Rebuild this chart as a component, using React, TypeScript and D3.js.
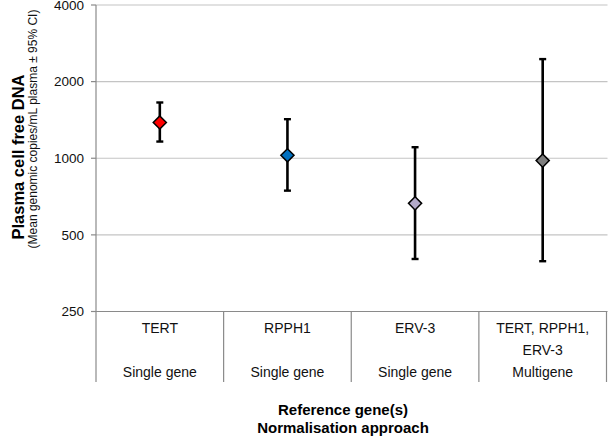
import React from "react";
import * as d3 from "d3";

const genes = ["TERT", "RPPH1", "ERV-3", "TERT, RPPH1,|ERV-3"];
const approaches = ["Single gene", "Single gene", "Single gene", "Multigene"];
const means = [1382, 1027, 665, 979];
const upper = [1656, 1424, 1105, 2452];
const lower = [1163, 746, 402, 394];
const markerColors = ["#ff0000", "#0070c0", "#b3aac9", "#7f7f7f"];
const yTicks = [250, 500, 1000, 2000, 4000];

const W = 608;
const H = 436;
const left = 96;
const right = 606.5;
const top = 5;
const bottom = 311.5;
const catBottom = 382;

export default function App() {
  const y = d3.scaleLog().base(2).domain([250, 4000]).range([bottom, top]);
  const x = d3.scaleBand().domain(genes).range([left, right]);
  const font = "Arial, 'Liberation Sans', Helvetica, sans-serif";
  const diamond = d3.symbol().type(d3.symbolDiamond2).size(110)();

  return (
    <svg
      width={W}
      height={H}
      style={{ position: "fixed", left: 0, top: 0, background: "#fff" }}
      fontFamily={font}
    >
      <rect width={W} height={H} fill="#fff" />
      {/* gridlines */}
      {yTicks.slice(1).map((t) => (
        <line key={"g" + t} x1={left} x2={right + 1} y1={y(t)} y2={y(t)} stroke="#c4c4c4" strokeWidth={1.2} />
      ))}
      {/* y ticks and labels */}
      {yTicks.map((t) => (
        <g key={"t" + t}>
          <line x1={left - 5} x2={left} y1={y(t)} y2={y(t)} stroke="#8a8a8a" strokeWidth={1.2} />
          <text x={84} y={y(t)} dy="0.36em" textAnchor="end" fontSize={13.5} fill="#111">
            {t}
          </text>
        </g>
      ))}
      {/* axes */}
      <line x1={left} x2={left} y1={top} y2={catBottom} stroke="#8a8a8a" strokeWidth={1.2} />
      <line x1={left - 5} x2={right + 1} y1={bottom} y2={bottom} stroke="#8a8a8a" strokeWidth={1.2} />
      {genes.map((g) => (
        <line key={"d" + g} x1={(x(g) as number) + x.bandwidth()} x2={(x(g) as number) + x.bandwidth()} y1={bottom} y2={catBottom} stroke="#8a8a8a" strokeWidth={1.2} />
      ))}
      {/* category labels */}
      {genes.map((g, i) => {
        const cx = (x(g) as number) + x.bandwidth() / 2;
        const lines = g.split("|");
        return (
          <g key={"c" + g}>
            {lines.map((l, j) => (
              <text key={j} x={cx} y={333 + j * 22} textAnchor="middle" fontSize={14} fill="#111">
                {l}
              </text>
            ))}
            <text x={cx} y={377} textAnchor="middle" fontSize={14} fill="#111">
              {approaches[i]}
            </text>
          </g>
        );
      })}
      {/* error bars and markers */}
      {genes.map((g, i) => {
        const cx = (x(g) as number) + x.bandwidth() / 2;
        return (
          <g key={"e" + g}>
            <line x1={cx} x2={cx} y1={y(upper[i])} y2={y(lower[i])} stroke="#000" strokeWidth={2.6} />
            <line x1={cx - 3.5} x2={cx + 3.5} y1={y(upper[i])} y2={y(upper[i])} stroke="#000" strokeWidth={2.4} />
            <line x1={cx - 3.5} x2={cx + 3.5} y1={y(lower[i])} y2={y(lower[i])} stroke="#000" strokeWidth={2.4} />
            <path d={diamond as string} transform={`translate(${cx},${y(means[i])})`} fill={markerColors[i]} stroke="#000" strokeWidth={1.5} />
          </g>
        );
      })}
      {/* y axis titles */}
      <text transform="translate(24,157) rotate(-90)" textAnchor="middle" fontSize={16.5} fontWeight="bold" fill="#000">
        Plasma cell free DNA
      </text>
      <text transform="translate(37,129) rotate(-90)" textAnchor="middle" fontSize={12} fill="#111">
        (Mean genomic copies/mL plasma ± 95% CI)
      </text>
      {/* x axis titles */}
      <text x={343} y={415} textAnchor="middle" fontSize={15} fontWeight="bold" fill="#000">
        Reference gene(s)
      </text>
      <text x={343} y={433} textAnchor="middle" fontSize={15} fontWeight="bold" fill="#000">
        Normalisation approach
      </text>
    </svg>
  );
}
